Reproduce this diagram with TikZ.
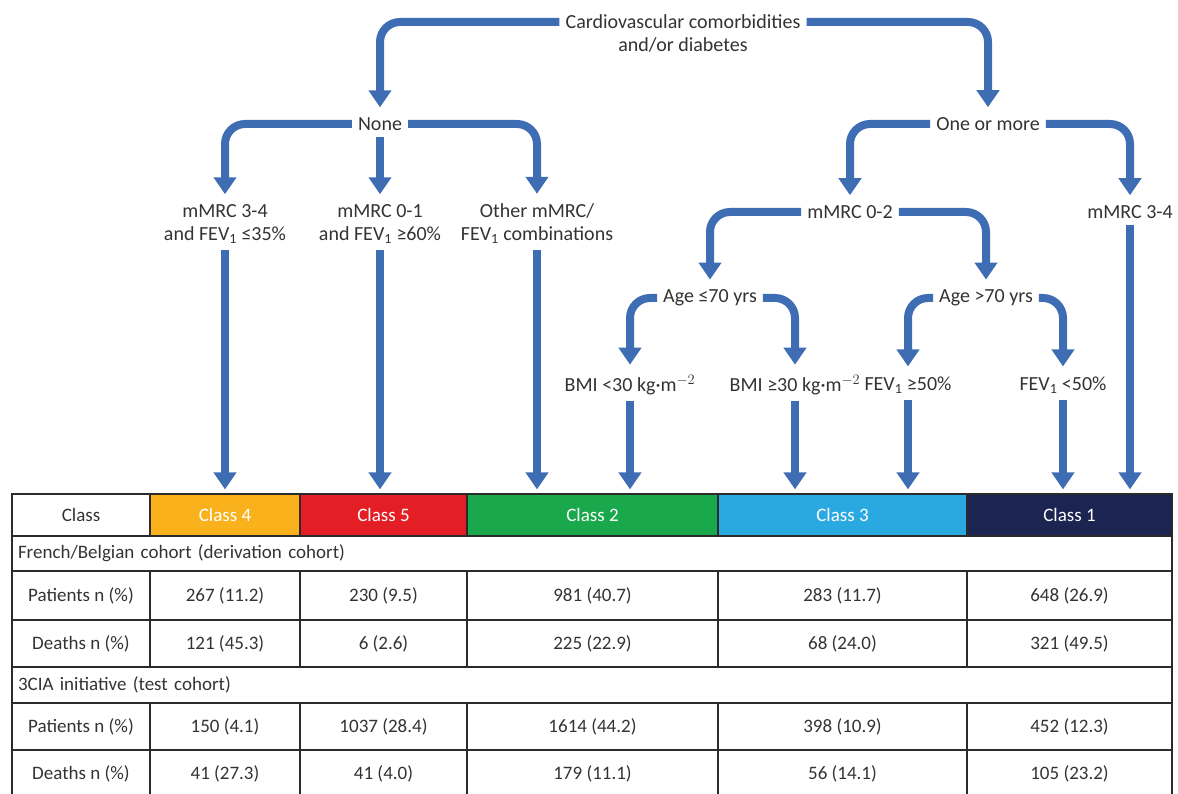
\documentclass[tikz,border=0pt]{standalone}
\usepackage{fontspec}
\setmainfont{Carlito}
\usepackage{tikz}
\usetikzlibrary{arrows.meta}
\usetikzlibrary{calc}
\usetikzlibrary{positioning}

\definecolor{flowblue}{HTML}{3F6DB3}
\definecolor{textgray}{HTML}{333333}
\definecolor{linegray}{HTML}{2B2B2B}
\definecolor{cfour}{HTML}{F9B21B}
\definecolor{cfive}{HTML}{E31E24}
\definecolor{ctwo}{HTML}{19A84B}
\definecolor{cthree}{HTML}{2AA9E0}
\definecolor{cone}{HTML}{1C2452}

\begin{document}
\begin{tikzpicture}[x=1pt,y=-1pt,
  font=\fontsize{19}{23}\selectfont,
  txt/.style = {text=textgray, inner sep=6pt, align=center, font=\fontsize{20}{23}\selectfont},
  flow/.style = {draw=flowblue, line width=8pt, rounded corners=20pt,
    -{Triangle[width=22pt,length=17pt]}, shorten >=4pt},
  cell/.style = {draw=linegray, line width=1.2pt, text=textgray, inner sep=0pt,
    minimum height=#1},
  head/.style = {cell=42pt, fill=#1, text=white}
  ]
	\useasboundingbox (0,0) rectangle (1178,794);

	% decision tree
	\node[txt] (cvd)   at (683,22)  {Cardiovascular comorbidities};
	\node[txt] (cvdb)  at (683,45)  {and/or diabetes};
	\node[txt] (none)  at (380,124) {None};
	\node[txt] (more)  at (988,124) {One or more};

	\node[txt] (lab4)  at (225,224) {mMRC 3-4\\and FEV\textsubscript{1} ≤35\%};
	\node[txt] (lab5)  at (380,224) {mMRC 0-1\\and FEV\textsubscript{1} ≥60\%};
	\node[txt] (labo)  at (537,224) {Other mMRC/\\FEV\textsubscript{1} combinations};
	\node[txt] (mrc02) at (850,212) {mMRC 0-2};
	\node[txt] (mrc34) at (1130,212) {mMRC 3-4};

	\node[txt] (young) at (710,298) {Age ≤70 yrs};
	\node[txt] (old)   at (986,298) {Age >70 yrs};

	\node[txt] (bmilo) at (630,385) {BMI <30 kg\textperiodcentered m$^{-2}$};
	\node[txt] (bmihi) at (795,385) {BMI ≥30 kg\textperiodcentered m$^{-2}$};
	\node[txt] (fevhi) at (908,385) {FEV\textsubscript{1} ≥50\%};
	\node[txt] (fevlo) at (1063,385) {FEV\textsubscript{1} <50\%};

	% table
	\node[cell=42pt, minimum width=138pt] (hd0) at (81,515) {Class};
	\node[head=cfour, minimum width=150pt] (cls4) at (225,515) {Class 4};
	\node[head=cfive, minimum width=167pt] (cls5) at (383.5,515) {Class 5};
	\node[head=ctwo, minimum width=251pt] (cls2) at (592.5,515) {Class 2};
	\node[head=cthree, minimum width=249pt] (cls3) at (842.5,515) {Class 3};
	\node[head=cone, minimum width=205pt] (cls1) at (1069.5,515) {Class 1};

	\node[cell=35pt, minimum width=1160pt, text width=1148pt, align=left] (coh1) at (592,553.5) {French/Belgian cohort (derivation cohort)};
	\node[cell=36pt, minimum width=1160pt, text width=1148pt, align=left] (coh2) at (592,685) {3CIA initiative (test cohort)};

	\foreach \nm/\y/\h/\lab/\va/\vb/\vc/\vd/\ve in {
		pa/595.5/49/Patients n (\%)/267 (11.2)/230 (9.5)/981 (40.7)/283 (11.7)/648 (26.9),
		de/643.5/47/Deaths n (\%)/121 (45.3)/6 (2.6)/225 (22.9)/68 (24.0)/321 (49.5),
		pb/726.5/47/Patients n (\%)/150 (4.1)/1037 (28.4)/1614 (44.2)/398 (10.9)/452 (12.3),
		db/774/48/Deaths n (\%)/41 (27.3)/41 (4.0)/179 (11.1)/56 (14.1)/105 (23.2)}
	{
		\node[cell=\h pt, minimum width=138pt] (\nm0) at (81,\y) {\lab};
		\node[cell=\h pt, minimum width=150pt] (\nm4) at (225,\y) {\va};
		\node[cell=\h pt, minimum width=167pt] (\nm5) at (383.5,\y) {\vb};
		\node[cell=\h pt, minimum width=251pt] (\nm2) at (592.5,\y) {\vc};
		\node[cell=\h pt, minimum width=249pt] (\nm3) at (842.5,\y) {\vd};
		\node[cell=\h pt, minimum width=205pt] (\nm1) at (1069.5,\y) {\ve};
	}

	% arrows
	\draw[flow] (cvd.west) -| (none.north);
	\draw[flow] (cvd.east) -| (more.north);

	\draw[flow] (none.west) -| (lab4.north);
	\draw[flow] (none.south) -- (lab5.north);
	\draw[flow] (none.east) -| (labo.north);
	\draw[flow] (more.west) -| (mrc02.north);
	\draw[flow] (more.east) -| (mrc34.north);

	\draw[flow] (mrc02.west) -| (young.north);
	\draw[flow] (mrc02.east) -| (old.north);
	\draw[flow] (young.west) -| (bmilo.north);
	\draw[flow] (young.east) -| (bmihi.north);
	\draw[flow] (old.west) -| (fevhi.north);
	\draw[flow] (old.east) -| (fevlo.north);

	\draw[flow] (lab4.south) -- (lab4.south |- cls4.north);
	\draw[flow] (lab5.south) -- (lab5.south |- cls5.north);
	\draw[flow] (labo.south) -- (labo.south |- cls2.north);
	\draw[flow] (bmilo.south) -- (bmilo.south |- cls2.north);
	\draw[flow] (bmihi.south) -- (bmihi.south |- cls3.north);
	\draw[flow] (fevhi.south) -- (fevhi.south |- cls3.north);
	\draw[flow] (fevlo.south) -- (fevlo.south |- cls1.north);
	\draw[flow] (mrc34.south) -- (mrc34.south |- cls1.north);

\end{tikzpicture}
\end{document}
